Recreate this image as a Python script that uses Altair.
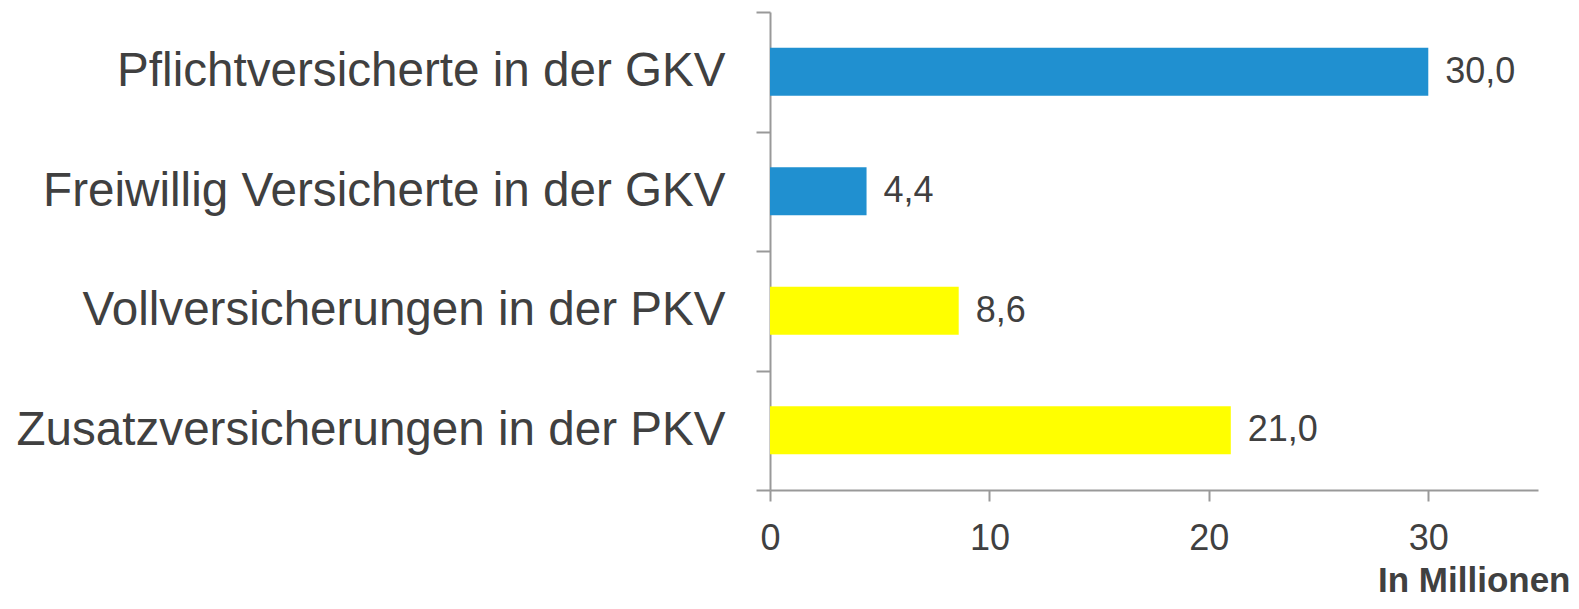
import altair as alt
import pandas as pd

categories = [
    "Pflichtversicherte in der GKV",
    "Freiwillig Versicherte in der GKV",
    "Vollversicherungen in der PKV",
    "Zusatzversicherungen in der PKV",
]
values = [30.0, 4.4, 8.6, 21.0]
groups = ["GKV", "GKV", "PKV", "PKV"]
labels = ["30,0", "4,4", "8,6", "21,0"]
x_ticks = [0, 10, 20, 30]

df = pd.DataFrame({"cat": categories, "val": values, "grp": groups, "lab": labels})

FONT = "Liberation Sans"
TXT = "#404040"
AX = "#999999"

y_enc = alt.Y(
    "cat:N",
    sort=categories,
    scale=alt.Scale(paddingInner=0, paddingOuter=0),
    axis=alt.Axis(
        title=None,
        tickBand="extent",
        tickSize=14,
        tickWidth=2,
        domainWidth=2,
        domainColor=AX,
        tickColor=AX,
        labelFontSize=47.6,
        labelColor=TXT,
        labelFont=FONT,
        labelPadding=31,
        labelLimit=1000,
    ),
)

x_enc = alt.X(
    "val:Q",
    scale=alt.Scale(domain=[0, 35], nice=False),
    axis=alt.Axis(
        values=x_ticks,
        title="In Millionen",
        titleFont=FONT,
        titleFontSize=35,
        titleFontWeight="bold",
        titleColor=TXT,
        titleAnchor="end",
        titleAlign="right",
        titleX=800,
        titleY=101,
        titleBaseline="alphabetic",
        tickSize=11,
        tickWidth=2,
        domainWidth=2,
        domainColor=AX,
        tickColor=AX,
        labelFontSize=36,
        labelColor=TXT,
        labelFont=FONT,
        labelPadding=20,
        labelFlush=False,
        grid=False,
        format="d",
    ),
)

bars = alt.Chart(df).mark_bar(height=48).encode(
    x=x_enc,
    y=y_enc,
    color=alt.Color(
        "grp:N",
        scale=alt.Scale(domain=["GKV", "PKV"], range=["#2090d0", "#ffff00"]),
        legend=None,
    ),
)

text = alt.Chart(df).mark_text(
    align="left", baseline="middle", dx=17, fontSize=36, font=FONT, color=TXT
).encode(x="val:Q", y=alt.Y("cat:N", sort=categories), text="lab:N")

chart = (
    alt.layer(bars, text)
    .properties(
        width=768,
        height=478,
        autosize=alt.AutoSizeParams(type="none"),
        padding={"left": 762, "top": 4, "right": 33, "bottom": 111},
    )
    .configure_view(stroke=None)
)

chart.save("out.html", embed_options={"renderer": "svg", "actions": False})
